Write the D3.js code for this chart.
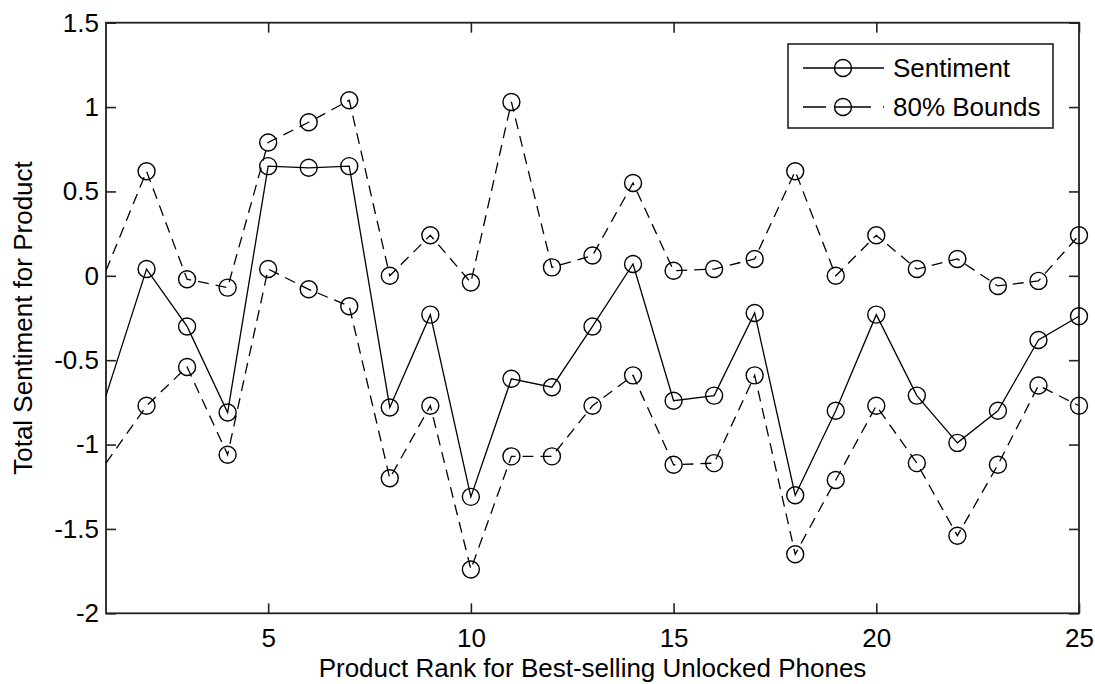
<!DOCTYPE html>
<html>
<head>
<meta charset="utf-8">
<script src="https://cdn.jsdelivr.net/npm/d3@7"></script>
<style>
  html, body { margin: 0; padding: 0; background: #fff; }
  svg { display: block; }
  text { font-family: Arial, "Liberation Sans", Helvetica, sans-serif; fill: #000; }
</style>
</head>
<body>
<svg id="chart" width="1095" height="684"></svg>
<script>
// Product ranks 1..25
const ranks = d3.range(1, 26);

// Total sentiment per product
const sentiment = [-0.71, 0.04, -0.30, -0.81, 0.65, 0.64, 0.65, -0.78, -0.23, -1.31,
                   -0.61, -0.66, -0.30, 0.07, -0.74, -0.71, -0.22, -1.30, -0.80, -0.23,
                   -0.71, -0.99, -0.80, -0.38, -0.24];

// Upper and lower 80% bounds
const upperBound = [0.03, 0.62, -0.02, -0.07, 0.79, 0.91, 1.04, 0.00, 0.24, -0.04,
                    1.03, 0.05, 0.12, 0.55, 0.03, 0.04, 0.10, 0.62, 0.00, 0.24,
                    0.04, 0.10, -0.06, -0.03, 0.24];
const lowerBound = [-1.11, -0.77, -0.54, -1.06, 0.04, -0.08, -0.18, -1.20, -0.77, -1.74,
                    -1.07, -1.07, -0.77, -0.59, -1.12, -1.11, -0.59, -1.65, -1.21, -0.77,
                    -1.11, -1.54, -1.12, -0.65, -0.77];

const xTicks = [5, 10, 15, 20, 25];
const yTicks = [-2, -1.5, -1, -0.5, 0, 0.5, 1, 1.5];

const legendLabels = ["Sentiment", "80% Bounds"];
const xTitle = "Product Rank for Best-selling Unlocked Phones";
const yTitle = "Total Sentiment for Product";

// ---- layout ----
const plot = { left: 106, right: 1079, top: 22.7, bottom: 613.3 };
const FONT = 26;
const DASH = "11,7";

const svg = d3.select("#chart");

const x = d3.scaleLinear().domain([1, 25]).range([plot.left, plot.right]);
const y = d3.scaleLinear().domain([-2, 1.5]).range([plot.bottom, plot.top]);

// frame
svg.append("rect")
  .attr("x", plot.left).attr("y", plot.top)
  .attr("width", plot.right - plot.left).attr("height", plot.bottom - plot.top)
  .attr("fill", "none").attr("stroke", "#222").attr("stroke-width", 1.8);

// axes with inward ticks on all four sides
function styleAxis(g, showLabels) {
  g.select(".domain").remove();
  g.selectAll(".tick line").attr("stroke", "#222").attr("stroke-width", 1.6);
  g.selectAll(".tick text")
    .attr("font-size", FONT)
    .attr("fill", "#000")
    .style("display", showLabels ? null : "none");
}

svg.append("g")
  .attr("transform", `translate(${plot.left},0)`)
  .call(d3.axisLeft(y).tickValues(yTicks).tickSize(-10).tickPadding(7).tickFormat(d => String(d)))
  .call(g => styleAxis(g, true));

svg.append("g")
  .attr("transform", `translate(${plot.right},0)`)
  .call(d3.axisRight(y).tickValues(yTicks).tickSize(-10))
  .call(g => styleAxis(g, false));

svg.append("g")
  .attr("transform", `translate(0,${plot.bottom})`)
  .call(d3.axisBottom(x).tickValues(xTicks).tickSize(-10).tickPadding(15).tickFormat(d => String(d)))
  .call(g => styleAxis(g, true));

svg.append("g")
  .attr("transform", `translate(0,${plot.top})`)
  .call(d3.axisTop(x).tickValues(xTicks).tickSize(-10))
  .call(g => styleAxis(g, false));

// axis titles
svg.append("text")
  .attr("x", (plot.left + plot.right) / 2)
  .attr("y", 677)
  .attr("text-anchor", "middle")
  .attr("font-size", FONT)
  .text(xTitle);

svg.append("text")
  .attr("transform", `translate(32,${(plot.top + plot.bottom) / 2}) rotate(-90)`)
  .attr("text-anchor", "middle")
  .attr("font-size", FONT)
  .text(yTitle);

// ---- series ----
const series = [
  { values: sentiment, dash: null },
  { values: upperBound, dash: DASH },
  { values: lowerBound, dash: DASH }
];

const line = d3.line()
  .x(d => x(d.rank))
  .y(d => y(d.value));

series.forEach(s => {
  const pts = ranks.map((r, i) => ({ rank: r, value: s.values[i] }));
  svg.append("path")
    .datum(pts)
    .attr("fill", "none")
    .attr("stroke", "#000")
    .attr("stroke-width", 1.3)
    .attr("stroke-dasharray", s.dash)
    .attr("d", line);

  // the first rank sits on the left frame, so only its line segment shows
  svg.append("g")
    .selectAll("circle")
    .data(pts.filter(p => p.rank > 1))
    .join("circle")
    .attr("cx", d => x(d.rank))
    .attr("cy", d => y(d.value))
    .attr("r", 8.5)
    .attr("fill", "none")
    .attr("stroke", "#000")
    .attr("stroke-width", 1.4);
});

// ---- legend ----
const legend = svg.append("g");
legend.append("rect")
  .attr("x", 788).attr("y", 44)
  .attr("width", 265).attr("height", 84)
  .attr("fill", "#fff").attr("stroke", "#222").attr("stroke-width", 1.6);

const legendRows = [
  { label: legendLabels[0], dash: null, cy: 68 },
  { label: legendLabels[1], dash: "23,8,37,12,3", cy: 107 }
];

legendRows.forEach(row => {
  legend.append("line")
    .attr("x1", 803).attr("x2", 884)
    .attr("y1", row.cy).attr("y2", row.cy)
    .attr("stroke", "#000").attr("stroke-width", 1.3)
    .attr("stroke-dasharray", row.dash);
  legend.append("circle")
    .attr("cx", 843).attr("cy", row.cy).attr("r", 8.5)
    .attr("fill", "none").attr("stroke", "#000").attr("stroke-width", 1.4);
  legend.append("text")
    .attr("x", 893).attr("y", row.cy)
    .attr("dy", "0.36em")
    .attr("font-size", FONT)
    .text(row.label);
});
</script>
</body>
</html>
